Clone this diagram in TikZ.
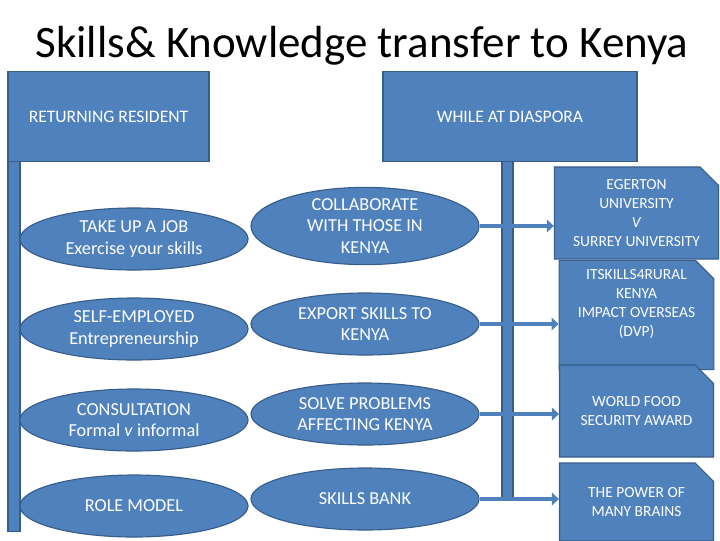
\documentclass[tikz,border=0pt]{standalone}
\usepackage{fontspec}
\setmainfont{Carlito}
\usepackage{xcolor}
\usepackage{tikz}
\usetikzlibrary{arrows.meta, positioning, calc, shapes.geometric, shapes.misc}
\definecolor{boxfill}{HTML}{4F81BD}
\definecolor{boxedge}{HTML}{385D8A}
\tikzset{
  header/.style={draw=boxedge, fill=boxfill, line width=0.8pt, minimum height=2.25cm, align=center, text=white, font=\fontsize{12.5}{15}\selectfont},
  option/.style={draw=boxedge, fill=boxfill, ellipse, line width=0.8pt, minimum width=5.7cm, minimum height=1.55cm, inner sep=0pt, align=center, text=white, font=\fontsize{13}{15.2}\selectfont},
  result/.style={draw=boxedge, fill=boxfill, chamfered rectangle, chamfered rectangle corners=north east, chamfered rectangle xsep=0.35cm, line width=0.8pt, minimum width=3.85cm, minimum height=2.3cm, align=center, text=white, font=\fontsize{11}{13.5}\selectfont},
  bar/.style={draw=boxedge, fill=boxfill, line width=0.8pt, inner sep=0pt},
  link/.style={-{Triangle[length=5pt, width=9pt]}, line width=3.4pt, draw=boxfill}
}

\begin{document}
\begin{tikzpicture}[x=0.025cm, y=-0.025cm]
        \clip (0,0) rectangle (720,540);

        % Title
        \node[font=\fontsize{32}{36}\selectfont] (title) at (362,46) {Skills\& Knowledge transfer to Kenya};

        % Headers and bars
        \node[header, minimum width=5.025cm] (ret)  at (108.5,116.5) {RETURNING RESIDENT};
        \node[header, minimum width=6.35cm]  (dias) at (510,116.5)   {WHILE AT DIASPORA};
        \node[bar, minimum width=0.3cm,   minimum height=9.25cm,  anchor=north] (lbar) at (14,161)   {};
        \node[bar, minimum width=0.275cm, minimum height=8.425cm, anchor=north] (rbar) at (507.5,161) {};

        % Returning resident
        \node[option] (job)     at (134,239) {TAKE UP A JOB\\Exercise your skills};
        \node[option] (self)    at (134,329) {SELF-EMPLOYED\\Entrepreneurship};
        \node[option] (consult) at (134,420) {CONSULTATION\\Formal \emph{v} informal};
        \node[option] (role)    at (134,506) {ROLE MODEL};

        % While at diaspora
        \node[option] (collab)  at (365,226) {COLLABORATE\\WITH THOSE IN\\KENYA};
        \node[option] (export)  at (365,324) {EXPORT SKILLS TO\\KENYA};
        \node[option] (solve)   at (365,414) {SOLVE PROBLEMS\\AFFECTING KENYA};
        \node[option] (bank)    at (365,499) {SKILLS BANK};

        % Examples
        \node[result] (egerton) at (636.5,213) {EGERTON\\UNIVERSITY\\\emph{V}\\SURREY UNIVERSITY};
        \node[result, minimum height=2.35cm, text depth=0.6cm] (rural) at (636.5,315) {ITSKILLS4RURAL\\KENYA\\IMPACT OVERSEAS\\(DVP)};
        \node[result] (food)    at (636.5,411) {WORLD FOOD\\SECURITY AWARD};
        \node[result, minimum height=1.95cm] (brains) at (636.5,502) {THE POWER OF\\MANY BRAINS};

        % Links
        \draw[link] (collab.east) -- (collab.east -| egerton.west);
        \draw[link] (export.east) -- (export.east -| rural.west);
        \draw[link] (solve.east)  -- (solve.east -| food.west);
        \draw[link] (bank.east)   -- (bank.east -| brains.west);
    \end{tikzpicture}
\end{document}
